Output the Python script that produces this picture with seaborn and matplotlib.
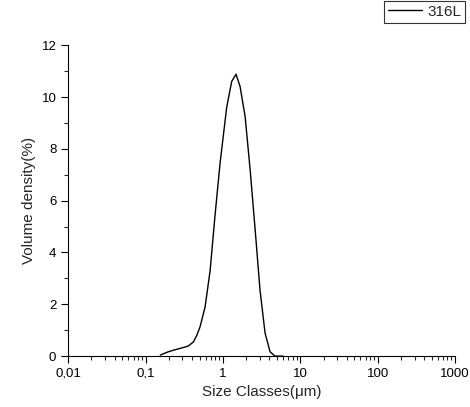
import numpy as np
import pandas as pd
import matplotlib
matplotlib.use("Agg")
import matplotlib.pyplot as plt
import seaborn as sns
from matplotlib.ticker import LogLocator, FixedLocator, MultipleLocator, FuncFormatter, NullFormatter

# --- Data ---
size_um = [0.155, 0.19, 0.23, 0.29, 0.358, 0.416, 0.46, 0.507, 0.589, 0.684, 0.79, 0.92, 1.12,
           1.30, 1.48, 1.67, 1.94, 2.25, 2.61, 3.02, 3.51, 4.07, 4.72, 6.0]
volume_density = [0.04, 0.15, 0.23, 0.31, 0.39, 0.55, 0.8, 1.13, 1.9, 3.3, 5.4, 7.45, 9.6,
                  10.6, 10.88, 10.4, 9.24, 7.2, 4.9, 2.55, 0.89, 0.17, 0.0, 0.0]
series_name = "316L"

df = pd.DataFrame({"size": size_um, "density": volume_density, "sample": series_name})

# --- Style ---
sns.set_style("ticks")
plt.rcParams['font.family'] = ['Liberation Sans', 'DejaVu Sans']
plt.rcParams['xtick.direction'] = 'out'
plt.rcParams['ytick.direction'] = 'out'

fig = plt.figure(figsize=(4.7, 4.07), dpi=100)
ax = fig.add_axes([0.145, 0.125, 0.823, 0.764])

sns.lineplot(data=df, x="size", y="density", hue="sample", palette=["black"],
             linewidth=1.0, ax=ax)

ax.set_xscale("log")
ax.set_xlim(0.01, 1000)
ax.set_ylim(0, 12)

# Ticks
ax.xaxis.set_major_locator(FixedLocator([0.01, 0.1, 1, 10, 100, 1000]))
ax.xaxis.set_minor_locator(LogLocator(base=10, subs=np.arange(2, 10), numticks=20))
ax.xaxis.set_minor_formatter(NullFormatter())
ax.xaxis.set_major_formatter(FuncFormatter(lambda v, p: f"{v:g}".replace(".", ",")))
ax.yaxis.set_major_locator(MultipleLocator(2))
ax.yaxis.set_minor_locator(MultipleLocator(1))
ax.tick_params(which="major", length=5, width=0.8, labelsize=9.5, colors="black")
ax.tick_params(which="minor", length=3, width=0.8)

for side in ["top", "right"]:
    ax.spines[side].set_visible(False)
for side in ["left", "bottom"]:
    ax.spines[side].set_linewidth(0.8)
    ax.spines[side].set_color("black")

ax.set_xlabel("Size Classes(μm)", fontsize=11)
ax.set_ylabel("Volume density(%)", fontsize=11)

leg = ax.legend(loc="upper right", bbox_to_anchor=(465 / 470, 1 - 1 / 407),
                bbox_transform=fig.transFigure, frameon=True,
                fancybox=False, edgecolor="black", fontsize=11, handlelength=2.2,
                borderpad=0.25, handletextpad=0.35, borderaxespad=0)
leg.get_frame().set_linewidth(0.8)

fig.savefig("out.png", dpi=100)
plt.close(fig)
